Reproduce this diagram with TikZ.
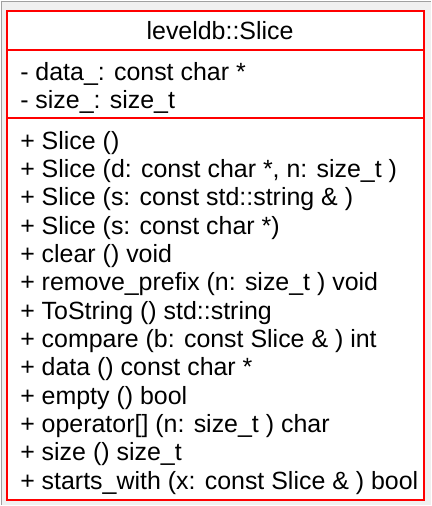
\documentclass[tikz,border=0pt]{standalone}
\usepackage{fontspec}
\setmainfont{Liberation Sans}
\definecolor{umlred}{HTML}{FF0000}
\definecolor{winbg}{HTML}{F0F0F0}
\definecolor{winedge}{HTML}{A0A0A0}
\begin{document}
\begin{tikzpicture}[x=1pt,y=-1pt,font=\fontsize{25}{28}\selectfont]
 \tikzstyle{classbox}=[draw=umlred,line width=2pt,fill=white]
 \tikzstyle{divider}=[draw=umlred,line width=2pt]
 \tikzstyle{member}=[anchor=base west,inner sep=0pt,text=black]
 \tikzstyle{title}=[anchor=base,inner sep=0pt,text=black]
 % window background
 \fill[winbg] (0,0) rectangle (431,506);
 \draw[winedge,line width=1.2pt] (0,1) -- (431,1);
 \draw[winedge,line width=1.2pt] (1,0) -- (1,506);
 % class box
 \draw[classbox] (6.5,10) rectangle (424,501);
 \coordinate (headL) at (6.5,50);
 \coordinate (headR) at (424,50);
 \coordinate (attrL) at (6.5,118);
 \coordinate (attrR) at (424,118);
 \draw[divider] (headL) -- (headR);
 \draw[divider] (attrL) -- (attrR);
 \node[title] (name) at (220,38.5) {leveldb::Slice};
 \node[member] (attr1) at (19.5,80) {- data\_: const char *};
 \node[member] (attr2) at (19.5,108.5) {- size\_: size\_t};
 \foreach \txt [count=\k] in {{+ Slice ()},
   {+ Slice (d: const char *, n: size\_t )},
   {+ Slice (s: const std::string \& )},
   {+ Slice (s: const char *)},
   {+ clear () void},
   {+ remove\_prefix (n: size\_t ) void},
   {+ ToString () std::string},
   {+ compare (b: const Slice \& ) int},
   {+ data () const char *},
   {+ empty () bool},
   {+ operator[] (n: size\_t ) char},
   {+ size () size\_t},
   {+ starts\_with (x: const Slice \& ) bool}}
  \node[member] (op\k) at (19.5,{149+28.4*(\k-1)}) {\txt};
\end{tikzpicture}
\end{document}
